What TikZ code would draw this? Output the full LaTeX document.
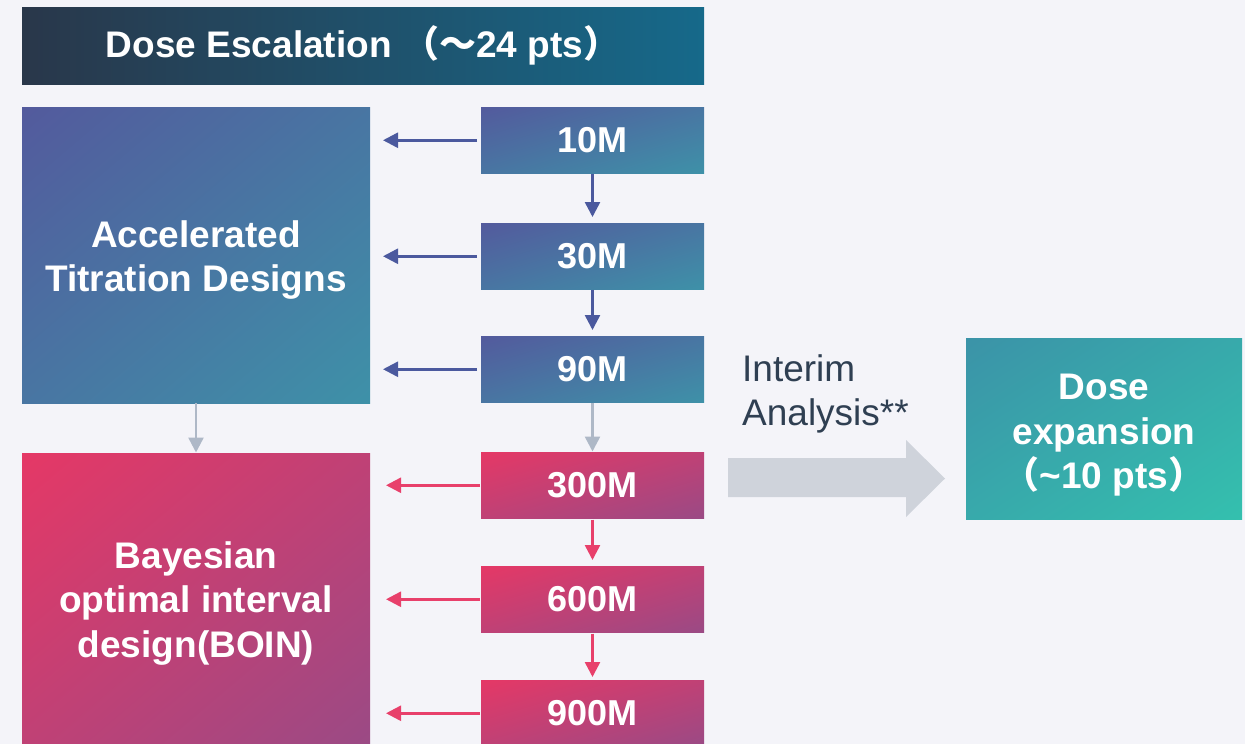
\documentclass[tikz,border=0pt]{standalone}
\usepackage{fontspec}
\setmainfont{Liberation Sans}
\newfontfamily\cjk{Noto Sans CJK SC}
\usetikzlibrary{arrows.meta,shadings}
\definecolor{bg}{HTML}{F4F4F9}
\definecolor{blueA}{HTML}{535A9D}
\definecolor{blueB}{HTML}{3E91A8}
\definecolor{pinkA}{HTML}{E53866}
\definecolor{pinkB}{HTML}{9A4A85}
\definecolor{tealA}{HTML}{3B93A8}
\definecolor{tealB}{HTML}{34C0AE}
\definecolor{banA}{HTML}{29374A}
\definecolor{banB}{HTML}{16698A}
\definecolor{barrow}{HTML}{4B599E}
\definecolor{parrow}{HTML}{E8406B}
\definecolor{garrow}{HTML}{AEB8C7}
\definecolor{bigarrow}{HTML}{CFD3DB}
\definecolor{txtgray}{HTML}{2F3F52}
\colorlet{blueM}{blueA!50!blueB}
\colorlet{pinkM}{pinkA!50!pinkB}
\colorlet{tealM}{tealA!50!tealB}
\newcommand{\lift}[1]{\rule{0pt}{#1}}
\begin{document}
\begin{tikzpicture}[x=1pt,y=-1pt,
  box/.style={inner sep=0pt, outer sep=0pt, anchor=north west, text=white,
    font=\bfseries\fontsize{37}{44.5}\selectfont, align=center},
  bluebox/.style={box, upper left=blueA, upper right=blueM, lower left=blueM, lower right=blueB},
  pinkbox/.style={box, upper left=pinkA, upper right=pinkM, lower left=pinkM, lower right=pinkB},
  tealbox/.style={box, upper left=tealA, upper right=tealM, lower left=tealM, lower right=tealB},
  dosebox/.style={minimum width=223pt, minimum height=66.5pt,
    font=\bfseries\fontsize{36}{44}\selectfont},
  arr/.style={line width=2.5pt, -{Triangle[length=15pt,width=15pt]}},
  barr/.style={arr, draw=barrow},
  parr/.style={arr, draw=parrow},
  garr/.style={arr, draw=garrow}
]
\useasboundingbox (0,0) rectangle (1245,744);
\clip (0,0) rectangle (1245,744);
\fill[bg] (0,0) rectangle (1245,744);

% banner
\node[box, left color=banA, right color=banB, minimum width=682pt, minimum height=77pt]
  (banner) at (22,7) {\raisebox{-1.5pt}{Dose Escalation {\cjk\bfseries （～}24 pts{\cjk\bfseries ）}}};

% left boxes
\node[bluebox, minimum width=348pt, minimum height=296pt] (acc) at (22,107)
  {\lift{37pt}Accelerated\\Titration Designs};
\node[pinkbox, minimum width=348pt, minimum height=295pt] (boin) at (22,453)
  {\lift{32pt}Bayesian\\optimal interval\\design(BOIN)};

% dose boxes
\node[bluebox, dosebox] (d10) at (481,107) {10M};
\node[bluebox, dosebox] (d30) at (481,223) {30M};
\node[bluebox, dosebox] (d90) at (481,336) {90M};
\node[pinkbox, dosebox] (d300) at (481,452) {300M};
\node[pinkbox, dosebox] (d600) at (481,566) {600M};
\node[pinkbox, dosebox] (d900) at (481,680) {900M};

% expansion box
\node[tealbox, minimum width=276pt, minimum height=181pt] (exp) at (966,338)
  {\lift{39pt}Dose\\expansion\\{\cjk\bfseries （}\textasciitilde10 pts{\cjk\bfseries ）}};

% interim text
\node[inner sep=0pt, anchor=north west, align=left, text=txtgray,
  font=\fontsize{37}{44}\selectfont] (interim) at (742,354) {Interim\\Analysis**};

% big arrow (shape)
\fill[bigarrow] (728,458) -- (906,458) -- (906,440) -- (945,478.5)
  -- (906,517) -- (906,497) -- (728,497) -- cycle;

% horizontal arrows
\foreach \d in {d10,d30,d90}
  \draw[barr, shorten <=4pt, shorten >=13pt] (\d.west) -- (\d.west -| acc.east);
\foreach \d in {d300,d600,d900}
  \draw[parr, shorten <=1pt, shorten >=16pt] (\d.west) -- (\d.west -| boin.east);

% vertical arrows
\draw[barr, shorten >=6pt] (d10.south) -- (d30.north);
\draw[barr, shorten >=6pt] (d30.south) -- (d90.north);
\draw[garr, shorten >=0.5pt] (d90.south) -- (d300.north);
\draw[garr, shorten >=0.5pt] (acc.south) -- (boin.north);
\draw[parr, shorten <=1pt, shorten >=6pt] (d300.south) -- (d600.north);
\draw[parr, shorten <=1pt, shorten >=3pt] (d600.south) -- (d900.north);
\end{tikzpicture}
\end{document}
